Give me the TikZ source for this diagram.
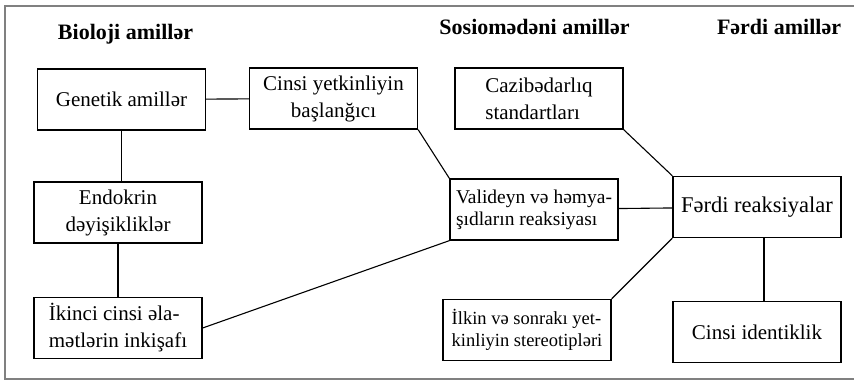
\documentclass[tikz,border=0pt]{standalone}
\usepackage{fontspec}
\setmainfont{Liberation Serif}

\begin{document}
\begin{tikzpicture}[x=1pt,y=-1pt,
  box/.style={draw,line width=1.3pt,minimum width=168pt,minimum height=61pt,
    inner sep=2pt,font=\fontsize{21}{27}\selectfont},
  smallbox/.style={box,font=\fontsize{18.5}{22}\selectfont},
  head/.style={anchor=base,font=\fontsize{22}{26}\selectfont\bfseries},
  link/.style={line width=1.1pt}]
  \useasboundingbox (0,0) rectangle (854,382);
  \draw[gray,line width=1.5pt] (854,6) -- (5,6) -- (5,379) -- (854,379);

  \node[head] (bio) at (125.5,40) {Bioloji amillər};
  \node[head] (sos) at (534.5,35) {Sosiomədəni amillər};
  \node[head] (fer) at (779,35) {Fərdi amillər};

  \node[box] (gen) at (121.5,99.5) {Genetik amillər};
  \node[box,align=center] (cyb) at (333.5,98.5) {Cinsi yetkinliyin\\başlanğıcı};
  \node[box,align=center] (endo) at (118,212.5) {Endokrin\\dəyişikliklər};
  \node[box,align=left] (ikinci) at (118,328) {İkinci cinsi əla-\\mətlərin inkişafı};
  \node[box,align=left] (caz) at (539,98.5) {Cazibədarlıq\\standartları};
  \node[smallbox,font=\fontsize{19.5}{22}\selectfont,align=left] (vali) at (534,209.5) {Valideyn və həmya-\\şıdların reaksiyası};
  \node[box,font=\fontsize{22.5}{27}\selectfont] (ferdi) at (757,207) {Fərdi reaksiyalar};
  \node[smallbox,align=left] (ilkin) at (527,330) {İlkin və sonrakı yet-\\kinliyin stereotipləri};
  \node[box] (cid) at (757,332) {Cinsi identiklik};

  \draw[link] (gen) -- (cyb);
  \draw[link] (gen.south) -- (gen.south |- endo.north);
  \draw[link] (endo) -- (ikinci);
  \draw[link] (cyb.south east) -- (vali.north west);
  \draw[link] (ikinci.east) -- (vali.south west);
  \draw[link] (vali) -- (ferdi);
  \draw[link] (caz.south east) -- (ferdi.north west);
  \draw[link] (ilkin.north east) -- (ferdi.south west);
  \draw[link] ([xshift=7pt]ferdi.south) -- ([xshift=7pt]cid.north);
\end{tikzpicture}
\end{document}
